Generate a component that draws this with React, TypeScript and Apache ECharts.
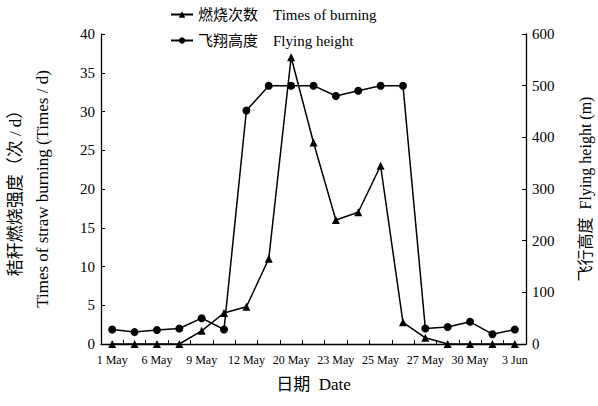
import React, { useEffect, useRef } from "react";
import * as echarts from "echarts";

const categories = [
  "1 May", "", "6 May", "", "9 May", "", "12 May", "", "20 May", "",
  "23 May", "", "25 May", "", "27 May", "", "30 May", "", "3 Jun",
];
const burningTimes = [0, 0, 0, 0, 1.7, 4, 4.8, 11, 37, 26, 16, 17, 23, 2.8, 0.8, 0, 0, 0, 0];
const flyingHeight = [28, 23, 27, 30, 50, 28, 452, 500, 500, 500, 480, 490, 500, 500, 30, 33, 43, 19, 28];
const leftTicks = { min: 0, max: 40, interval: 5 };
const rightTicks = { min: 0, max: 600, interval: 100 };

const FONT = "'Liberation Serif', 'Times New Roman', 'Noto Sans CJK SC', serif";

export default function App() {
  const ref = useRef<HTMLDivElement>(null);
  useEffect(() => {
    if (!ref.current) return;
    const chart = echarts.init(ref.current, undefined, { renderer: "svg" });
    const axisCommon = {
      axisLine: { show: true, lineStyle: { color: "#000", width: 1.3 } },
      axisTick: { show: true, inside: true, length: 4, lineStyle: { color: "#000", width: 1 } },
      splitLine: { show: false },
    };
    chart.setOption({
      animation: false,
      backgroundColor: "#fff",
      textStyle: { fontFamily: FONT, color: "#000" },
      legend: {
        orient: "vertical",
        left: 165,
        top: 2,
        itemGap: 11,
        itemWidth: 22,
        itemHeight: 8,
        textStyle: { fontFamily: FONT, fontSize: 15, color: "#000" },
        data: ["燃烧次数    Times of burning", "飞翔高度    Flying height"],
      },
      grid: { left: 101, right: 72, top: 34, bottom: 62, outerBoundsMode: "none", containLabel: false },
      xAxis: {
        type: "category",
        data: categories,
        boundaryGap: true,
        ...axisCommon,
        axisTick: { show: true, inside: true, length: 4, interval: 0, alignWithLabel: false, lineStyle: { color: "#000", width: 1 } },
        axisLabel: { interval: 0, fontSize: 12, color: "#000", fontFamily: FONT, margin: 10 },
        name: "日期  Date",
        nameLocation: "middle",
        nameGap: 32,
        nameTextStyle: { fontSize: 17, color: "#000", fontFamily: FONT },
      },
      yAxis: [
        {
          type: "value",
          min: leftTicks.min,
          max: leftTicks.max,
          interval: leftTicks.interval,
          ...axisCommon,
          axisLabel: { fontSize: 15, color: "#000", fontFamily: FONT, margin: 6 },
          name: "秸秆燃烧强度（次 / d）\nTimes of straw burning (Times / d)",
          nameLocation: "middle",
          nameRotate: 90,
          nameGap: 45,
          nameTextStyle: { fontSize: 17, color: "#000", fontFamily: FONT, lineHeight: 27 },
        },
        {
          type: "value",
          min: rightTicks.min,
          max: rightTicks.max,
          interval: rightTicks.interval,
          position: "right",
          ...axisCommon,
          axisLabel: { fontSize: 15, color: "#000", fontFamily: FONT, margin: 6 },
          name: "飞行高度  Flying height (m)",
          nameLocation: "middle",
          nameRotate: 90,
          nameGap: 51,
          nameTextStyle: { fontSize: 16, color: "#000", fontFamily: FONT },
        },
      ],
      series: [
        {
          name: "燃烧次数    Times of burning",
          type: "line",
          yAxisIndex: 0,
          data: burningTimes,
          symbol: "triangle",
          symbolSize: 8,
          showAllSymbol: true,
          lineStyle: { color: "#000", width: 1.5 },
          itemStyle: { color: "#000" },
        },
        {
          name: "飞翔高度    Flying height",
          type: "line",
          yAxisIndex: 1,
          data: flyingHeight,
          symbol: "circle",
          symbolSize: 8,
          showAllSymbol: true,
          lineStyle: { color: "#000", width: 1.5 },
          itemStyle: { color: "#000" },
        },
      ],
    });
    return () => chart.dispose();
  }, []);
  return <div ref={ref} style={{ width: 598, height: 406, position: "absolute", left: 0, top: 0 }} />;
}
